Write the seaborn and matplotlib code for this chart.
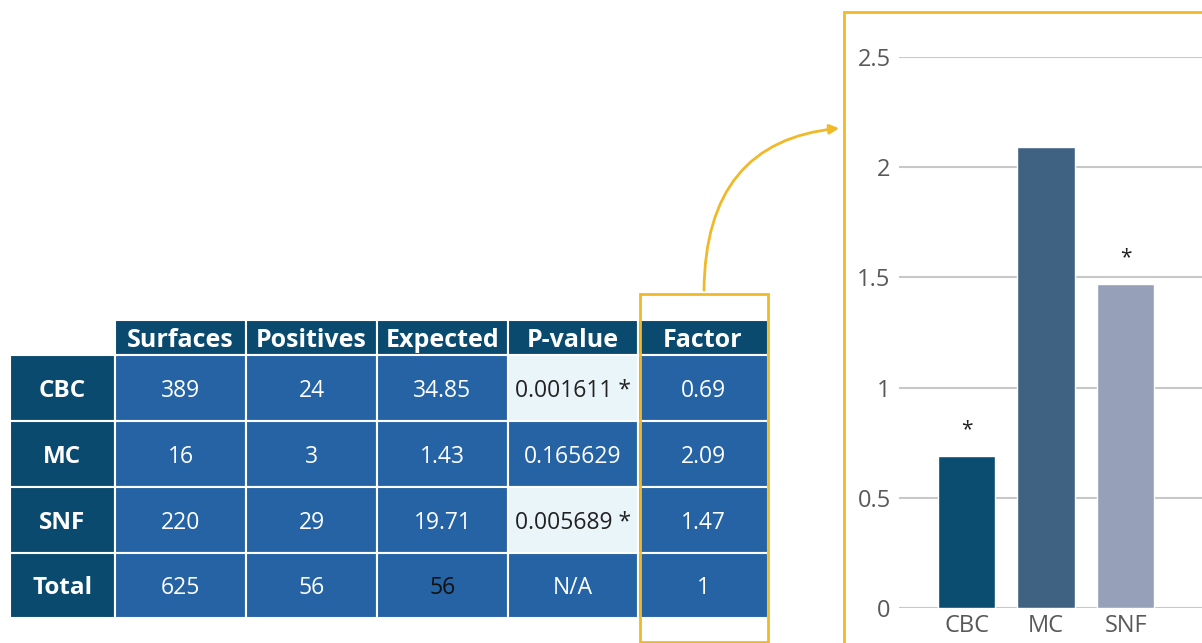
import seaborn as sns
import matplotlib.pyplot as plt
import pandas as pd
from matplotlib.patches import Rectangle, FancyArrowPatch

# table data
row_labels = ["CBC", "MC", "SNF", "Total"]
col_labels = ["Surfaces", "Positives", "Expected", "P-value", "Factor"]
surfaces = ["389", "16", "220", "625"]
positives = ["24", "3", "29", "56"]
expected = ["34.85", "1.43", "19.71", "56"]
p_values = ["0.001611 *", "0.165629", "0.005689 *", "N/A"]
factor_text = ["0.69", "2.09", "1.47", "1"]

# bar chart data
groups = ["CBC", "MC", "SNF"]
factor = [0.69, 2.09, 1.47]
significant = [True, False, True]

dark = "#0a4a6e"
cell_blue = "#2563a5"
light = "#eaf5fa"
yellow = "#f0b929"
bar_colors = ["#0a4d70", "#3f6283", "#96a0b8"]

W, H = 1202, 643
sns.set_theme(style="white")
plt.rcParams["font.family"] = ["Open Sans", "DejaVu Sans"]

fig = plt.figure(figsize=(W / 100, H / 100), dpi=100)


def fx(px):
    return px / W


def fy(py):
    return 1 - py / H


# ---- table ----
ax_t = fig.add_axes([fx(10), fy(618), fx(758), 298 / H])
ax_t.axis("off")

cells = [[""] + col_labels]
for i, r in enumerate(row_labels):
    cells.append([r, surfaces[i], positives[i], expected[i], p_values[i], factor_text[i]])

tbl = ax_t.table(cellText=cells, bbox=[0, 0, 1, 1], cellLoc="center")
tbl.auto_set_font_size(False)
col_w = [105, 131, 131, 131, 130, 130]
row_h = [35, 66, 66, 66, 65]
for (r, c), cell in tbl.get_celld().items():
    cell.set_width(col_w[c])
    cell.set_height(row_h[r])
    cell.set_edgecolor("white")
    cell.set_linewidth(1.5)
    txt = cell.get_text()
    txt.set_fontsize(16.5)
    txt.set_va("center_baseline")
    if r == 0 and c == 0:
        cell.set_facecolor("white")
        cell.set_linewidth(0)
    elif r == 0:
        cell.set_facecolor(dark)
        txt.set_color("white")
        txt.set_fontweight("bold")
        txt.set_fontsize(18)
    elif c == 0:
        cell.set_facecolor(dark)
        txt.set_color("white")
        txt.set_fontweight("bold")
        txt.set_fontsize(17.5)
    else:
        cell.set_facecolor(cell_blue)
        txt.set_color("white")
        if c == 4 and "*" in cells[r][c]:
            cell.set_facecolor(light)
            txt.set_color("#222222")
        if r == 4 and c == 3:
            txt.set_color("#111111")

# highlight box around Factor column
fig.patches.append(Rectangle((fx(640), fy(642)), fx(128), 348 / H, transform=fig.transFigure,
                             fill=False, edgecolor=yellow, linewidth=2, zorder=10))

# chart frame
fig.patches.append(Rectangle((fx(844), fy(650)), fx(400), 638 / H, transform=fig.transFigure,
                             fill=False, edgecolor=yellow, linewidth=2, zorder=10))

# arrow
arrow = FancyArrowPatch((fx(704), fy(293)), (fx(842), fy(128)), transform=fig.transFigure,
                        connectionstyle="angle3,angleA=90,angleB=5", arrowstyle="-|>",
                        mutation_scale=14, color=yellow, linewidth=2, zorder=10)
fig.patches.append(arrow)

# ---- bar chart ----
ax = fig.add_axes([fx(899), fy(608), fx(303), 551 / H])
df = pd.DataFrame({"group": groups, "factor": factor})
sns.barplot(data=df, x="group", y="factor", hue="group", palette=bar_colors,
            width=0.72, legend=False, ax=ax, saturation=1)
for i, s in enumerate(significant):
    if s:
        ax.text(i, factor[i] + 0.07, "*", ha="center", va="bottom", fontsize=15, color="#222222")

ax.set_ylim(0, 2.5)
ax.set_xlim(-0.85, 2.96)
ax.set_yticks([0, 0.5, 1, 1.5, 2, 2.5])
ax.set_yticklabels(["0", "0.5", "1", "1.5", "2", "2.5"])
ax.yaxis.grid(True, color="#c8c8c8", linewidth=1.5)
ax.set_axisbelow(True)
for sp in ax.spines.values():
    sp.set_visible(False)
ax.tick_params(axis="both", length=0, labelsize=17, labelcolor="#595959")
ax.tick_params(axis="y", pad=6)
ax.tick_params(axis="x", pad=4)
ax.set_xlabel("")
ax.set_ylabel("")

fig.savefig("out.png", dpi=100)
